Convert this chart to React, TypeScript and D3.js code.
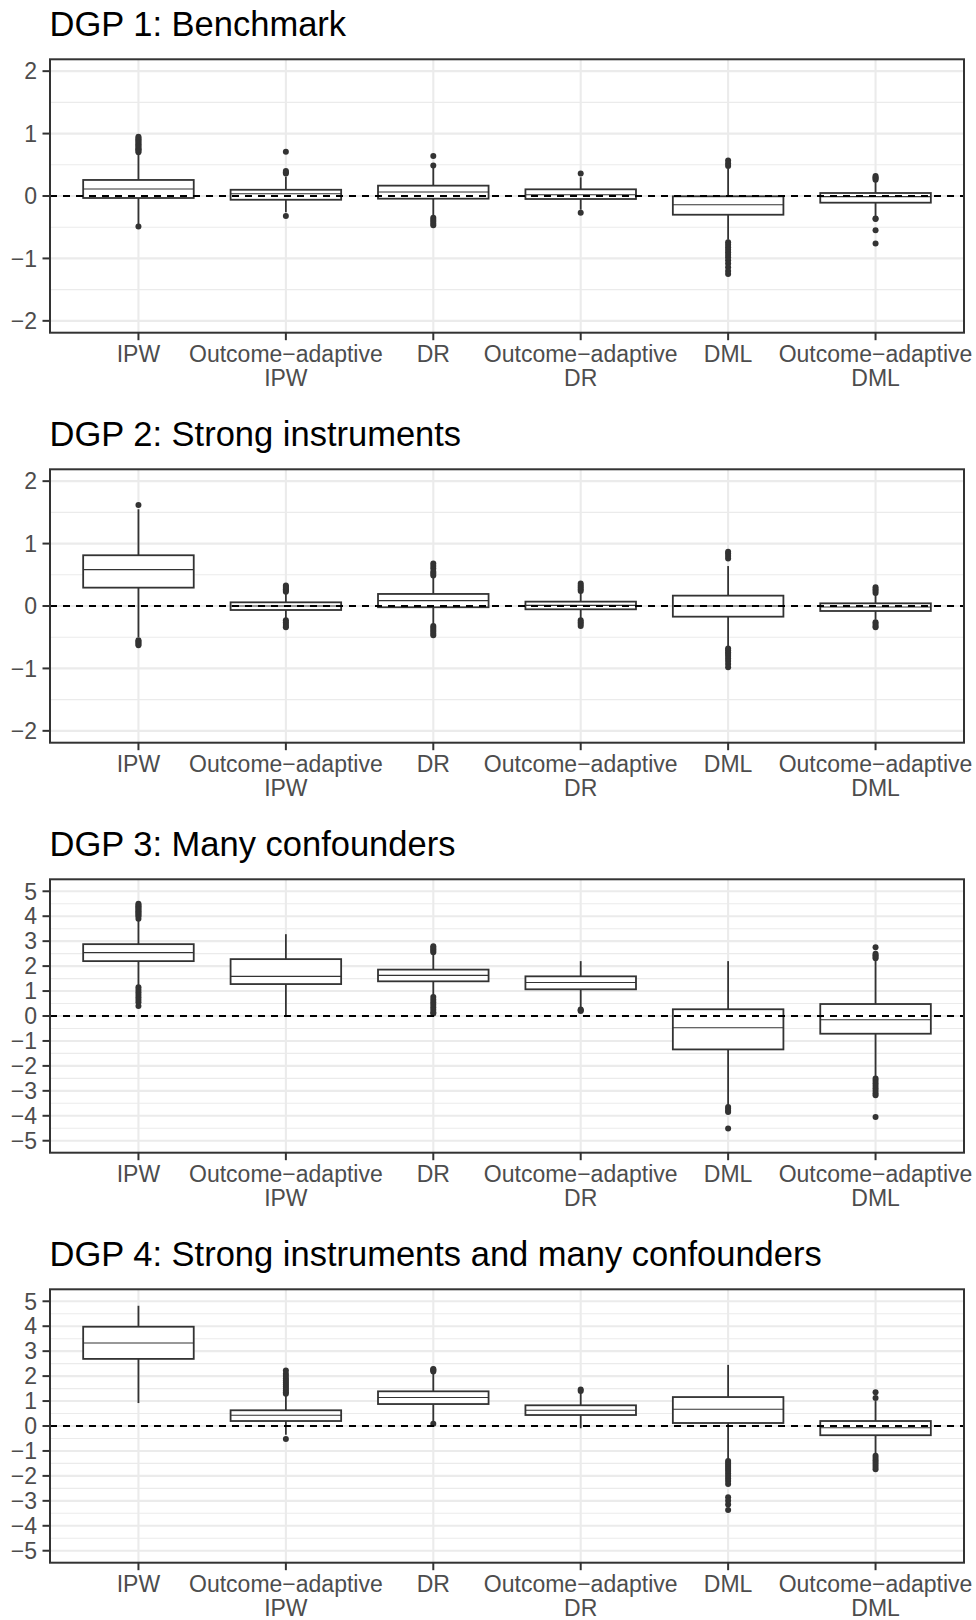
import * as d3 from "d3";

// categories (x axis), same for every DGP panel
const METHODS = ["IPW", "OA-IPW", "DR", "OA-DR", "DML", "OA-DML"];
const METHOD_LABELS = [
  ["IPW"],
  ["Outcome\u2212adaptive", "IPW"],
  ["DR"],
  ["Outcome\u2212adaptive", "DR"],
  ["DML"],
  ["Outcome\u2212adaptive", "DML"],
];

const DGP_TITLES = [
  "DGP 1: Benchmark",
  "DGP 2: Strong instruments",
  "DGP 3: Many confounders",
  "DGP 4: Strong instruments and many confounders",
];

const Y_LIMITS = [2.19, 2.19, 5.48, 5.48];
const Y_TICKS_SMALL = [-2, -1, 0, 1, 2];
const Y_MINOR_SMALL = [-1.5, -0.5, 0.5, 1.5];
const Y_TICKS_LARGE = [-5, -4, -3, -2, -1, 0, 1, 2, 3, 4, 5];
const Y_MINOR_LARGE = [-4.5, -3.5, -2.5, -1.5, -0.5, 0.5, 1.5, 2.5, 3.5, 4.5];

// box stats per method: [whisker low, q1, median, q3, whisker high]
const DGP1_BOXES = [
  [-0.45, -0.032, 0.112, 0.257, 0.68],
  [-0.26, -0.06, 0.037, 0.1, 0.31],
  [-0.32, -0.043, 0.064, 0.166, 0.47],
  [-0.22, -0.048, 0.02, 0.107, 0.3],
  [-0.7, -0.3, -0.14, -0.005, 0.44],
  [-0.32, -0.107, -0.01, 0.048, 0.24],
];
const DGP1_OUTLIERS = [
  [-0.49, 0.7, 0.72, 0.74, 0.75, 0.77, 0.79, 0.81, 0.83, 0.85, 0.87, 0.89, 0.91, 0.93, 0.95],
  [-0.32, 0.36, 0.38, 0.4, 0.71],
  [-0.35, -0.38, -0.41, -0.44, -0.47, 0.49, 0.64],
  [-0.27, 0.36],
  [0.48, 0.52, 0.57, -0.74, -0.78, -0.82, -0.86, -0.9, -0.94, -0.98, -1.03, -1.08, -1.14, -1.2, -1.25],
  [0.26, 0.28, 0.3, 0.32, -0.36, -0.37, -0.55, -0.76],
];

const DGP2_BOXES = [
  [-0.5, 0.294, 0.583, 0.813, 1.55],
  [-0.2, -0.064, 0.0, 0.059, 0.21],
  [-0.3, -0.02, 0.086, 0.193, 0.47],
  [-0.21, -0.053, 0.01, 0.07, 0.22],
  [-0.65, -0.171, 0.0, 0.166, 0.64],
  [-0.22, -0.08, -0.016, 0.043, 0.18],
];
const DGP2_OUTLIERS = [
  [1.62, -0.55, -0.57, -0.59, -0.61, -0.63],
  [0.23, 0.25, 0.27, 0.29, 0.31, 0.33, -0.23, -0.26, -0.29, -0.32, -0.34],
  [0.49, 0.52, 0.55, 0.6, 0.64, 0.68, -0.32, -0.35, -0.38, -0.41, -0.44, -0.47],
  [0.24, 0.27, 0.3, 0.33, 0.36, -0.23, -0.26, -0.29, -0.32],
  [0.76, 0.8, 0.84, 0.87, -0.68, -0.71, -0.74, -0.77, -0.8, -0.84, -0.88, -0.93, -0.98],
  [0.21, 0.24, 0.27, 0.3, -0.26, -0.29, -0.32, -0.34],
];

const DGP3_BOXES = [
  [1.2, 2.2, 2.54, 2.88, 3.85],
  [0.03, 1.28, 1.59, 2.28, 3.28],
  [0.8, 1.39, 1.63, 1.86, 2.5],
  [0.3, 1.07, 1.34, 1.59, 2.2],
  [-3.6, -1.34, -0.47, 0.27, 2.2],
  [-2.45, -0.71, -0.15, 0.48, 2.25],
];
const DGP3_OUTLIERS = [
  [3.9, 4.0, 4.05, 4.1, 4.15, 4.2, 4.25, 4.3, 4.35, 4.4, 4.45, 4.5, 1.15, 1.05, 0.95, 0.85, 0.75, 0.65, 0.55, 0.4],
  [],
  [2.56, 2.62, 2.68, 2.74, 2.8, 0.76, 0.65, 0.55, 0.45, 0.35, 0.25, 0.15, 0.1],
  [0.2, 0.23, 0.26],
  [-3.65, -3.72, -3.8, -3.85, -4.51],
  [2.32, 2.38, 2.44, 2.5, 2.76, -2.51, -2.6, -2.7, -2.8, -2.9, -3.0, -3.1, -3.18, -4.05],
];

const DGP4_BOXES = [
  [0.92, 2.69, 3.33, 3.98, 4.82],
  [-0.35, 0.2, 0.43, 0.63, 1.25],
  [0.13, 0.88, 1.14, 1.39, 2.1],
  [-0.09, 0.44, 0.63, 0.83, 1.35],
  [-1.35, 0.12, 0.67, 1.16, 2.45],
  [-1.15, -0.37, -0.07, 0.2, 1.0],
];
const DGP4_OUTLIERS = [
  [],
  [1.29, 1.35, 1.42, 1.5, 1.58, 1.66, 1.74, 1.82, 1.9, 2.0, 2.09, 2.22, -0.52],
  [2.18, 2.22, 2.26, 2.29, 0.09],
  [1.4, 1.46],
  [-1.4, -1.48, -1.56, -1.64, -1.72, -1.8, -1.9, -2.0, -2.1, -2.2, -2.33, -2.86, -3.0, -3.15, -3.37],
  [1.12, 1.35, -1.19, -1.28, -1.37, -1.46, -1.55, -1.64, -1.73],
];

const PANELS = [
  { boxes: DGP1_BOXES, outliers: DGP1_OUTLIERS, ticks: Y_TICKS_SMALL, minor: Y_MINOR_SMALL },
  { boxes: DGP2_BOXES, outliers: DGP2_OUTLIERS, ticks: Y_TICKS_SMALL, minor: Y_MINOR_SMALL },
  { boxes: DGP3_BOXES, outliers: DGP3_OUTLIERS, ticks: Y_TICKS_LARGE, minor: Y_MINOR_LARGE },
  { boxes: DGP4_BOXES, outliers: DGP4_OUTLIERS, ticks: Y_TICKS_LARGE, minor: Y_MINOR_LARGE },
];

const WIDTH = 976;
const HEIGHT = 1620;
const PANEL_LEFT = 50;
const PANEL_RIGHT = 964;
const FIRST_TOP = 59.3;
const PANEL_STEP = 410;
const PANEL_H = 273.4;

const FONT = "'Liberation Sans', Arial, Helvetica, sans-serif";
const AXIS_TEXT = "#4D4D4D";
const DARK = "#333333";
const GRID = "#EBEBEB";

const fmt = d3.format("d");

function Panel({ index }: { index: number }) {
  const { boxes, outliers, ticks, minor } = PANELS[index];
  const top = FIRST_TOP + index * PANEL_STEP;
  const bottom = top + PANEL_H;
  const lim = Y_LIMITS[index];

  const x = d3.scalePoint<string>().domain(METHODS).range([PANEL_LEFT, PANEL_RIGHT]).padding(0.6);
  const y = d3.scaleLinear().domain([-lim, lim]).range([bottom, top]);
  const boxW = x.step() * 0.75;

  return (
    <g>
      <text x={PANEL_LEFT - 0.5} y={top - 23} fontSize={34.5} fill="#000" fontFamily={FONT}>
        {DGP_TITLES[index]}
      </text>
      <rect x={PANEL_LEFT} y={top} width={PANEL_RIGHT - PANEL_LEFT} height={PANEL_H} fill="#fff" />
      {minor.map((v) => (
        <line key={"mn" + v} x1={PANEL_LEFT} x2={PANEL_RIGHT} y1={y(v)} y2={y(v)} stroke={GRID} strokeWidth={1.1} />
      ))}
      {ticks.map((v) => (
        <line key={"mj" + v} x1={PANEL_LEFT} x2={PANEL_RIGHT} y1={y(v)} y2={y(v)} stroke={GRID} strokeWidth={2.1} />
      ))}
      {METHODS.map((m) => (
        <line key={"vx" + m} x1={x(m)} x2={x(m)} y1={top} y2={bottom} stroke={GRID} strokeWidth={2.1} />
      ))}
      {METHODS.map((m, i) => {
        const [lo, q1, med, q3, hi] = boxes[i];
        const cx = x(m) as number;
        return (
          <g key={"bx" + m}>
            <line x1={cx} x2={cx} y1={y(hi)} y2={y(q3)} stroke={DARK} strokeWidth={1.8} />
            <line x1={cx} x2={cx} y1={y(q1)} y2={y(lo)} stroke={DARK} strokeWidth={1.8} />
            <rect
              x={cx - boxW / 2}
              y={y(q3)}
              width={boxW}
              height={y(q1) - y(q3)}
              fill="#fff"
              stroke={DARK}
              strokeWidth={1.8}
            />
            <line x1={cx - boxW / 2} x2={cx + boxW / 2} y1={y(med)} y2={y(med)} stroke={DARK} strokeWidth={1.1} />
            {outliers[i].map((v, k) => (
              <circle key={k} cx={cx} cy={y(v)} r={3} fill={DARK} />
            ))}
          </g>
        );
      })}
      <line
        x1={PANEL_LEFT}
        x2={PANEL_RIGHT}
        y1={y(0)}
        y2={y(0)}
        stroke="#000"
        strokeWidth={1.8}
        strokeDasharray="7,6"
      />
      <rect
        x={PANEL_LEFT}
        y={top}
        width={PANEL_RIGHT - PANEL_LEFT}
        height={PANEL_H}
        fill="none"
        stroke={DARK}
        strokeWidth={2}
      />
      {ticks.map((v) => (
        <g key={"yt" + v}>
          <line x1={PANEL_LEFT - 7.5} x2={PANEL_LEFT} y1={y(v)} y2={y(v)} stroke={DARK} strokeWidth={2} />
          <text
            x={PANEL_LEFT - 13}
            y={y(v)}
            dy="0.36em"
            textAnchor="end"
            fontSize={23}
            fill={AXIS_TEXT}
            fontFamily={FONT}
          >
            {fmt(v)}
          </text>
        </g>
      ))}
      {METHODS.map((m, i) => (
        <g key={"xt" + m}>
          <line x1={x(m)} x2={x(m)} y1={bottom} y2={bottom + 7.5} stroke={DARK} strokeWidth={2} />
          {METHOD_LABELS[i].map((line, j) => (
            <text
              key={j}
              x={x(m)}
              y={bottom + 29 + j * 24.5}
              textAnchor="middle"
              fontSize={23}
              fill={AXIS_TEXT}
              fontFamily={FONT}
            >
              {line}
            </text>
          ))}
        </g>
      ))}
    </g>
  );
}

export default function App() {
  return (
    <svg
      width={WIDTH}
      height={HEIGHT}
      viewBox={`0 0 ${WIDTH} ${HEIGHT}`}
      style={{ position: "absolute", left: 0, top: 0, background: "#fff" }}
    >
      <rect width={WIDTH} height={HEIGHT} fill="#fff" />
      {PANELS.map((_, i) => (
        <Panel key={i} index={i} />
      ))}
    </svg>
  );
}
